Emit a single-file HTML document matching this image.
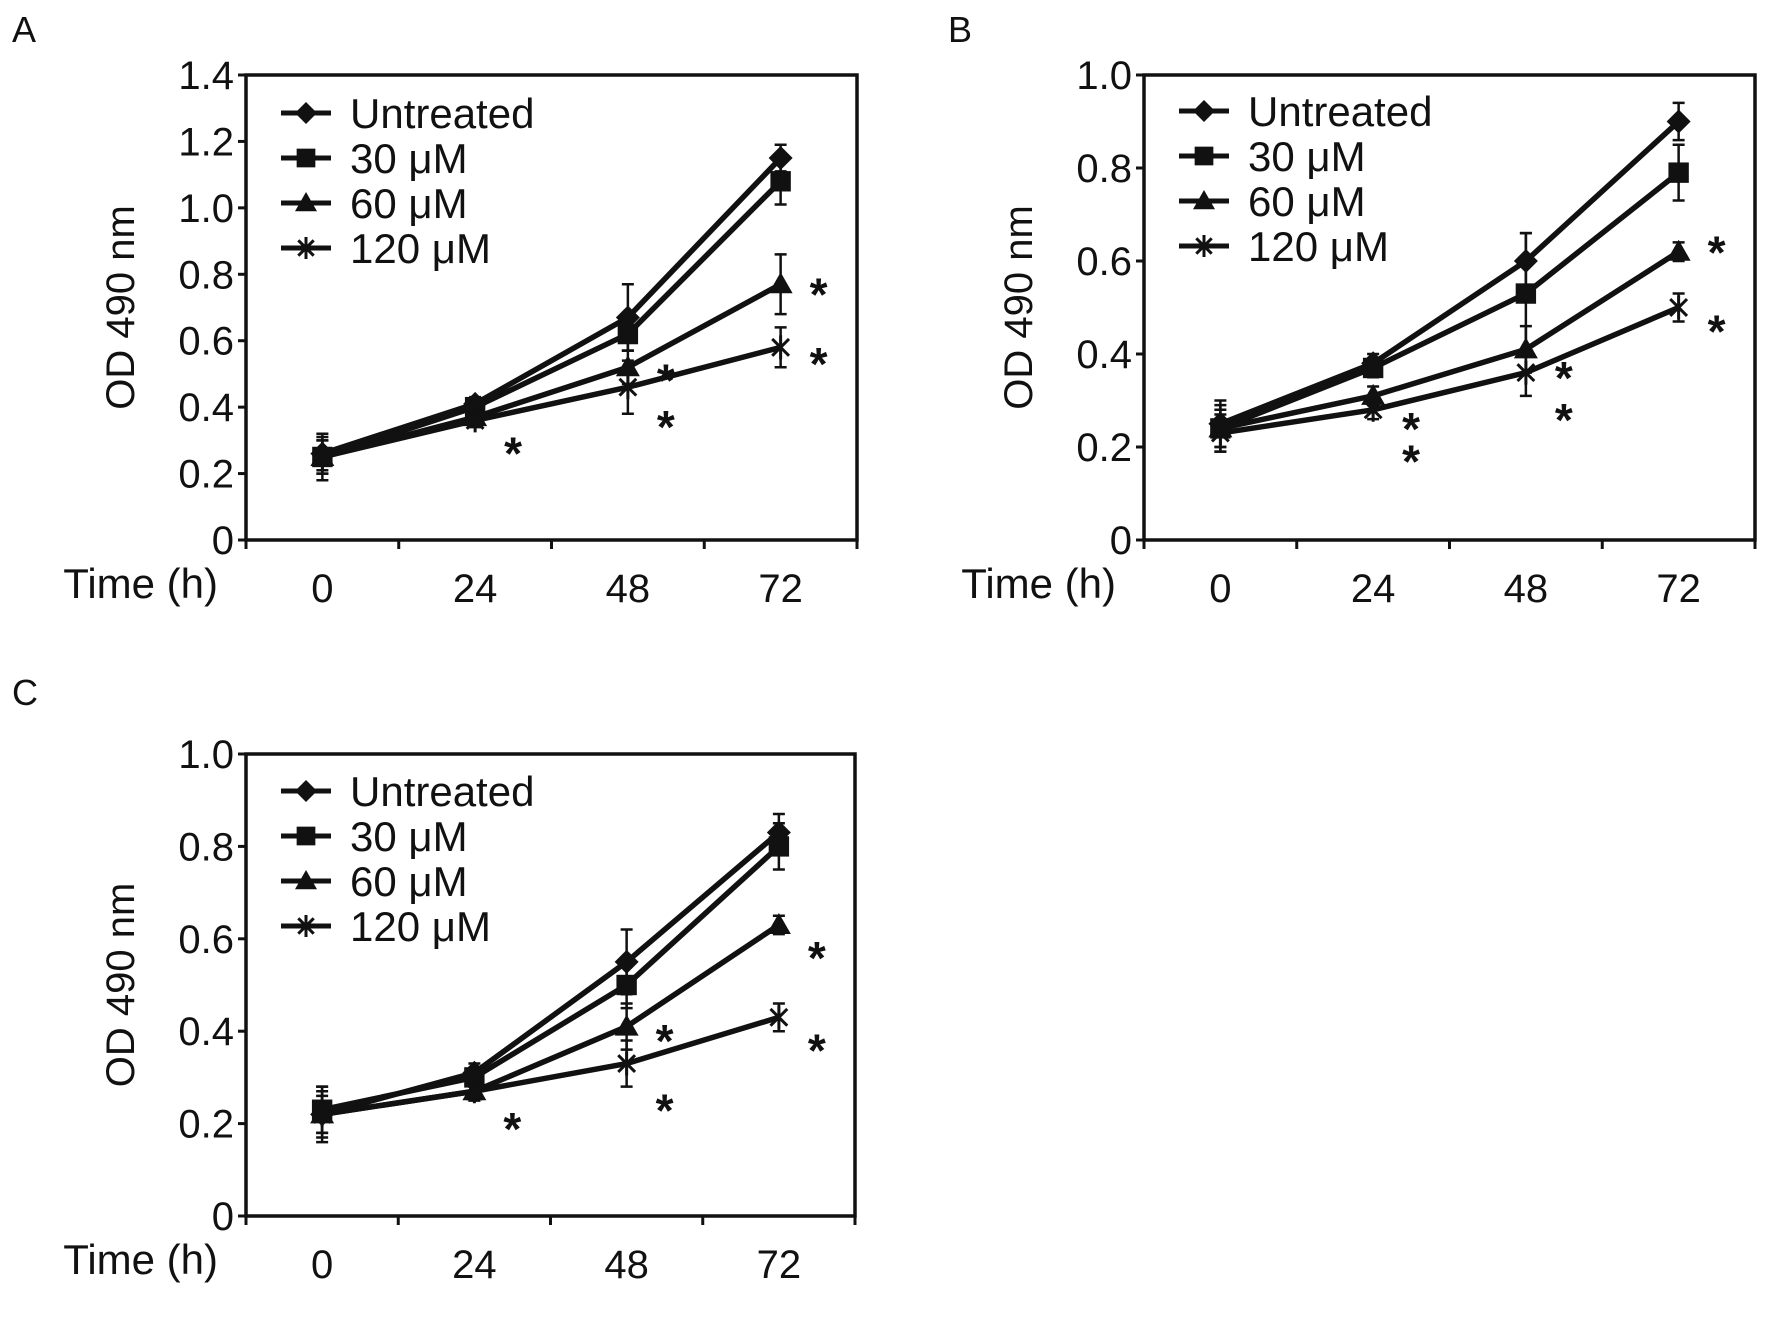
<!DOCTYPE html>
<html><head><meta charset="utf-8"><style>
html,body{margin:0;padding:0;background:#fff;}
svg{display:block;}
text{font-family:"Liberation Sans",sans-serif;fill:#111;}
</style></head><body>
<svg id="fig" width="1772" height="1320" viewBox="0 0 1772 1320" xmlns="http://www.w3.org/2000/svg"></svg>
<script>
const categories = ["0","24","48","72"];
const seriesNames = ["Untreated","30 μM","60 μM","120 μM"];
const markers = ["diamond","square","triangle","x"];
// Panel A
const aUntreated = [0.26,0.41,0.67,1.15];
const a30 = [0.25,0.40,0.62,1.08];
const a60 = [0.25,0.37,0.52,0.77];
const a120 = [0.25,0.36,0.46,0.58];
const aErrU = [0.05,0.02,0.10,0.04];
const aErr30 = [0.07,0.02,0.05,0.07];
const aErr60 = [0.05,0.02,0.05,0.09];
const aErr120 = [0.05,0.02,0.08,0.06];
const aStarCat = [1,2,2,3,3];
const aStarVal = [0.29,0.51,0.37,0.77,0.56];
const aTicks = [0,0.2,0.4,0.6,0.8,1.0,1.2,1.4];
const aTickLabels = ["0","0.2","0.4","0.6","0.8","1.0","1.2","1.4"];
// Panel B
const bUntreated = [0.25,0.38,0.60,0.90];
const b30 = [0.24,0.37,0.53,0.79];
const b60 = [0.24,0.31,0.41,0.62];
const b120 = [0.23,0.28,0.36,0.50];
const bErrU = [0.05,0.02,0.06,0.04];
const bErr30 = [0.05,0.02,0.13,0.06];
const bErr60 = [0.04,0.02,0.05,0.02];
const bErr120 = [0.04,0.02,0.05,0.03];
const bStarCat = [1,1,2,2,3,3];
const bStarVal = [0.26,0.19,0.37,0.28,0.64,0.47];
const bTicks = [0,0.2,0.4,0.6,0.8,1.0];
const bTickLabels = ["0","0.2","0.4","0.6","0.8","1.0"];
// Panel C
const cUntreated = [0.22,0.31,0.55,0.83];
const c30 = [0.23,0.30,0.50,0.80];
const c60 = [0.22,0.27,0.41,0.63];
const c120 = [0.22,0.27,0.33,0.43];
const cErrU = [0.06,0.02,0.07,0.04];
const cErr30 = [0.05,0.02,0.05,0.05];
const cErr60 = [0.04,0.02,0.05,0.02];
const cErr120 = [0.05,0.02,0.05,0.03];
const cStarCat = [1,2,2,3,3];
const cStarVal = [0.21,0.40,0.25,0.58,0.38];
const cTicks = bTicks;
const cTickLabels = bTickLabels;

const NS="http://www.w3.org/2000/svg";
const svg=document.getElementById('fig');
function mk(tag,attrs,parent){const e=document.createElementNS(NS,tag);for(const k in attrs)e.setAttribute(k,attrs[k]);(parent||svg).appendChild(e);return e;}

function marker(g,type,x,y,s){
  let m;
  if(type==="diamond") m=mk('polygon',{points:`${x},${y-s} ${x+s},${y} ${x},${y+s} ${x-s},${y}`,fill:'#111'},g);
  else if(type==="square") m=mk('rect',{x:x-s*0.85,y:y-s*0.85,width:s*1.7,height:s*1.7,fill:'#111'},g);
  else if(type==="triangle") m=mk('polygon',{points:`${x},${y-s} ${x+s},${y+s*0.75} ${x-s},${y+s*0.75}`,fill:'#111'},g);
  else {m=mk('path',{d:`M${x-s*0.7},${y-s*0.7}L${x+s*0.7},${y+s*0.7}M${x-s*0.7},${y+s*0.7}L${x+s*0.7},${y-s*0.7}M${x},${y-s}L${x},${y+s}`,stroke:'#111','stroke-width':3,fill:'none'},g);}
  return m;
}

function panel(p){
  const g=mk('g',{});
  
  
  const L=p.left,R=p.right,T=p.top,B=p.bottom;
  const band=(R-L)/categories.length;
  const xs=i=>L+band*(i+0.5);
  const ys=v=>B-(v/p.ymax)*(B-T);
  const lbl=mk('text',{x:p.labelX,y:p.labelY,'font-size':36},g);lbl.textContent=p.id;
  
  const frame=mk('rect',{x:L,y:T,width:R-L,height:B-T,fill:'none',stroke:'#111','stroke-width':3.5},g);
  
  p.ticks.forEach((t,i)=>{
    const y=ys(t);
    mk('line',{x1:L-8,x2:L,y1:y,y2:y,stroke:'#111','stroke-width':3},g);
    const tx=mk('text',{x:L-12,y:y+14,'font-size':40,'text-anchor':'end'},g);tx.textContent=p.tickLabels[i];
    
  });
  for(let i=0;i<=categories.length;i++){const x=L+band*i;mk('line',{x1:x,x2:x,y1:B,y2:B+9,stroke:'#111','stroke-width':3},g);}
  categories.forEach((c,i)=>{
    const tx=mk('text',{x:xs(i),y:B+62,'font-size':40,'text-anchor':'middle'},g);tx.textContent=c;
    
  });
  const xt=mk('text',{x:L-28,y:B+58,'font-size':42,'text-anchor':'end'},g);xt.textContent='Time (h)';
  
  const cy=(T+B)/2;
  const yt=mk('text',{x:0,y:0,'font-size':40,'text-anchor':'middle',transform:`translate(${L-112},${cy}) rotate(-90)`},g);yt.textContent='OD 490 nm';
  
  p.series.forEach((vals,si)=>{
    const sg=mk('g',{},g);
    
    
    const err=p.errs[si];
    vals.forEach((v,i)=>{
      const x=xs(i);
      mk('path',{d:`M${x},${ys(v+err[i])}L${x},${ys(v-err[i])}M${x-6},${ys(v+err[i])}L${x+6},${ys(v+err[i])}M${x-6},${ys(v-err[i])}L${x+6},${ys(v-err[i])}`,stroke:'#111','stroke-width':2.5,fill:'none'},sg);
    });
    const ln=mk('polyline',{points:vals.map((v,i)=>xs(i)+','+ys(v)).join(' '),fill:'none',stroke:'#111','stroke-width':5.5,'stroke-linejoin':'round'},sg);
    
    vals.forEach((v,i)=>{const m=marker(sg,markers[si],xs(i),ys(v),12);
      });
  });
  p.starCat.forEach((c,i)=>{
    const s=mk('text',{x:xs(c)+38,y:ys(p.starVal[i])+26,'font-size':46,'font-weight':'bold','text-anchor':'middle'},g);s.textContent='*';
    
  });
  seriesNames.forEach((n,i)=>{
    const y=p.legY+i*45;
    const lg=mk('g',{},g);
    
    mk('line',{x1:L+35,x2:L+85,y1:y,y2:y,stroke:'#111','stroke-width':5},lg);
    marker(lg,markers[i],L+60,y,11);
    const t=mk('text',{x:L+104,y:y+15,'font-size':42},lg);t.textContent=n;
  });
}

panel({id:'A',labelX:12,labelY:42,left:246,right:857,top:75,bottom:540,ymax:1.4,ticks:aTicks,tickLabels:aTickLabels,
  series:[aUntreated,a30,a60,a120],errs:[aErrU,aErr30,aErr60,aErr120],starCat:aStarCat,starVal:aStarVal,legY:113});
panel({id:'B',labelX:948,labelY:42,left:1144,right:1755,top:75,bottom:540,ymax:1.0,ticks:bTicks,tickLabels:bTickLabels,
  series:[bUntreated,b30,b60,b120],errs:[bErrU,bErr30,bErr60,bErr120],starCat:bStarCat,starVal:bStarVal,legY:111});
panel({id:'C',labelX:12,labelY:705,left:246,right:855,top:754,bottom:1216,ymax:1.0,ticks:cTicks,tickLabels:cTickLabels,
  series:[cUntreated,c30,c60,c120],errs:[cErrU,cErr30,cErr60,cErr120],starCat:cStarCat,starVal:cStarVal,legY:791});
</script>
</body></html>
